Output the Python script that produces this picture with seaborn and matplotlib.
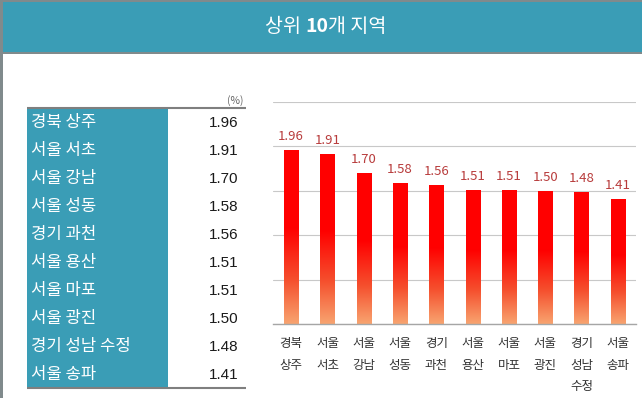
import numpy as np
import matplotlib
matplotlib.use('Agg')
import matplotlib.pyplot as plt
import seaborn as sns
import pandas as pd
from matplotlib.colors import LinearSegmentedColormap
from matplotlib.patches import Rectangle

# ---------------- data ----------------
regions = ["경북 상주", "서울 서초", "서울 강남", "서울 성동", "경기 과천",
           "서울 용산", "서울 마포", "서울 광진", "경기 성남 수정", "서울 송파"]
values = [1.96, 1.91, 1.70, 1.58, 1.56, 1.51, 1.51, 1.50, 1.48, 1.41]
axis_labels = [r.replace(" ", "\n") for r in regions]
value_labels = [f"{v:.2f}" for v in values]
title_parts = ["상위 ", "10", "개 지역"]
unit_label = "(%)"
y_ticks = [0, 0.5, 1.0, 1.5, 2.0, 2.5]

sns.set_style("white")
plt.rcParams['font.family'] = ['Noto Sans CJK KR', 'DejaVu Sans']

W, H = 642, 398
fig = plt.figure(figsize=(W / 100, H / 100), dpi=100)

TEAL = '#3a9db6'
GRAY = '#808a8c'
LINE = '#7f7f7f'

# background axes in pixel coordinates
bg = fig.add_axes([0, 0, 1, 1], zorder=0)
bg.set_xlim(0, W)
bg.set_ylim(H, 0)
bg.axis('off')


def rect(x0, y0, x1, y1, color, z=1):
    bg.add_patch(Rectangle((x0, y0), x1 - x0, y1 - y0, facecolor=color,
                           edgecolor='none', zorder=z))


# title bar
rect(0, 0, W, 2.5, GRAY)
rect(0, 2, W, 52, TEAL)
rect(0, 51.5, W, 53.5, GRAY)
rect(0, 0, 3, H, GRAY, z=3)

t1 = bg.text(264, 26, title_parts[0], color='white', fontsize=11.5,
             ha='left', va='center', zorder=4)
t2 = bg.annotate(title_parts[1], xy=(1, 0.5), xycoords=t1, color='white',
                 fontsize=11.5, fontweight='bold', ha='left', va='center', zorder=4)
t3 = bg.annotate(title_parts[2], xy=(1, 0.5), xycoords=t2, color='white',
                 fontsize=11.5, ha='left', va='center', zorder=4)

# table
rect(27, 108, 168, 387, TEAL)
bg.plot([27, 246], [107.5, 107.5], color=LINE, lw=1.5, zorder=2, solid_capstyle='butt')
bg.plot([27, 246], [388, 388], color=LINE, lw=1.5, zorder=2, solid_capstyle='butt')
bg.text(235, 101, unit_label, fontsize=7.5, color='#666666', ha='center', va='center')
for i, (r, vl) in enumerate(zip(regions, value_labels)):
    yc = 123 + 28 * i
    bg.text(31, yc, r, color='white', fontsize=12, ha='left', va='center', zorder=3)
    bg.text(238, yc, vl, color='#1a1a1a', fontsize=11, ha='right', va='center',
            family=['Liberation Sans', 'DejaVu Sans'], zorder=3)

# ---------------- bar chart ----------------
ax = fig.add_axes([273 / W, 1 - 324 / H, 363 / W, (324 - 101.5) / H], zorder=2)
ax.set_facecolor('none')
df = pd.DataFrame({'label': axis_labels, 'value': values})
sns.barplot(data=df, x='label', y='value', ax=ax, width=0.39, color='red',
            saturation=1)

cmap = LinearSegmentedColormap.from_list(
    'bar', [(0.0, '#f8a470'), (0.25, '#f5502e'), (0.55, '#ff0000'), (1.0, '#ff0000')])
grad = np.linspace(0, 1, 256).reshape(-1, 1)
for p in list(ax.patches):
    x0, y0 = p.get_x(), p.get_y()
    w, h = p.get_width(), p.get_height()
    im = ax.imshow(grad, extent=[x0, x0 + w, y0, y0 + h], origin='lower',
                   aspect='auto', cmap=cmap, zorder=2)
    im.set_clip_path(p)
    p.set_facecolor('none')
    p.set_edgecolor('none')

for i, v in enumerate(values):
    ax.annotate(value_labels[i], (i, v), xytext=(0, 5), textcoords='offset points',
                ha='center', va='bottom', fontsize=9.5, color='#b83c3c')

ax.set_xlim(-0.5, 9.5)
ax.set_ylim(0, 2.5)
ax.set_yticks(y_ticks)
ax.set_yticklabels([])
ax.tick_params(axis='y', length=0)
ax.set_xticks(range(len(axis_labels)))
ax.set_xticklabels(axis_labels, fontsize=9, linespacing=1.85, color='#333333')
ax.tick_params(axis='x', which='major', length=0, pad=9.5)
ax.set_xticks(np.arange(-0.5, len(axis_labels), 1), minor=True)
ax.tick_params(axis='x', which='minor', length=4, color='#a6a6a6', width=1,
               direction='out')
ax.grid(axis='y', color='#c8c8c8', lw=0.8)
ax.set_axisbelow(True)
ax.set_xlabel('')
ax.set_ylabel('')
for s in ['left', 'top', 'right']:
    ax.spines[s].set_visible(False)
ax.spines['bottom'].set_color('#a6a6a6')
ax.spines['bottom'].set_linewidth(1)

# calibrate title size/position to the reference (width ~122 px, centre x ~326)
fig.canvas.draw()
rnd = fig.canvas.get_renderer()
width = t3.get_window_extent(rnd).x1 - t1.get_window_extent(rnd).x0
scale = 122.0 / width
for t in (t1, t2, t3):
    t.set_fontsize(11.5 * scale)
fig.canvas.draw()
x0 = t1.get_window_extent(rnd).x0
x1 = t3.get_window_extent(rnd).x1
t1.set_x(264 + (326 - (x0 + x1) / 2))

fig.savefig('out.png', dpi=100)
